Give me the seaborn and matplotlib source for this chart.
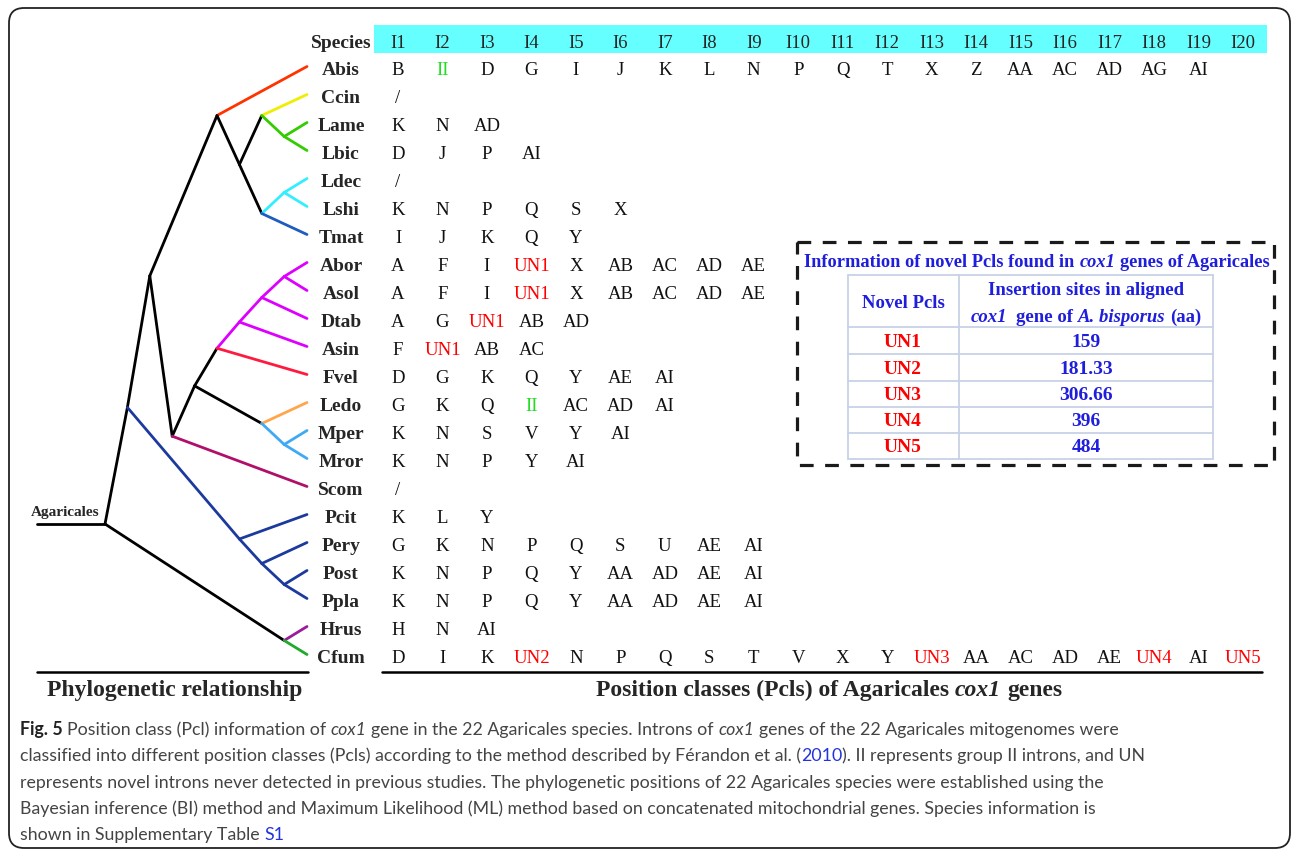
import numpy as np
import pandas as pd
import matplotlib
matplotlib.use("Agg")
import matplotlib.pyplot as plt
import seaborn as sns
from matplotlib.patches import Rectangle, FancyBboxPatch

sns.set_theme(style="white")
plt.rcParams['font.family'] = ['Liberation Serif', 'DejaVu Serif']

# -----------------------------
# data
# -----------------------------
species = ["Abis", "Ccin", "Lame", "Lbic", "Ldec", "Lshi", "Tmat", "Abor", "Asol",
           "Dtab", "Asin", "Fvel", "Ledo", "Mper", "Mror", "Scom", "Pcit", "Pery",
           "Post", "Ppla", "Hrus", "Cfum"]

pcls = {
    "Abis": ["B", "II", "D", "G", "I", "J", "K", "L", "N", "P", "Q", "T", "X", "Z", "AA", "AC", "AD", "AG", "AI"],
    "Ccin": ["/"],
    "Lame": ["K", "N", "AD"],
    "Lbic": ["D", "J", "P", "AI"],
    "Ldec": ["/"],
    "Lshi": ["K", "N", "P", "Q", "S", "X"],
    "Tmat": ["I", "J", "K", "Q", "Y"],
    "Abor": ["A", "F", "I", "UN1", "X", "AB", "AC", "AD", "AE"],
    "Asol": ["A", "F", "I", "UN1", "X", "AB", "AC", "AD", "AE"],
    "Dtab": ["A", "G", "UN1", "AB", "AD"],
    "Asin": ["F", "UN1", "AB", "AC"],
    "Fvel": ["D", "G", "K", "Q", "Y", "AE", "AI"],
    "Ledo": ["G", "K", "Q", "II", "AC", "AD", "AI"],
    "Mper": ["K", "N", "S", "V", "Y", "AI"],
    "Mror": ["K", "N", "P", "Y", "AI"],
    "Scom": ["/"],
    "Pcit": ["K", "L", "Y"],
    "Pery": ["G", "K", "N", "P", "Q", "S", "U", "AE", "AI"],
    "Post": ["K", "N", "P", "Q", "Y", "AA", "AD", "AE", "AI"],
    "Ppla": ["K", "N", "P", "Q", "Y", "AA", "AD", "AE", "AI"],
    "Hrus": ["H", "N", "AI"],
    "Cfum": ["D", "I", "K", "UN2", "N", "P", "Q", "S", "T", "V", "X", "Y", "UN3",
             "AA", "AC", "AD", "AE", "UN4", "AI", "UN5"],
}

columns = ["I%d" % i for i in range(1, 21)]

novel_pcls = ["UN1", "UN2", "UN3", "UN4", "UN5"]
insertion_sites = ["159", "181.33", "306.66", "396", "484"]

# tree topology (node -> children) and depth level of internal nodes
tree = {
    "root": ["Nh", "Nhc"],
    "Nh": ["N1", "Np1"],
    "N1": ["Ntop", "Ng"],
    "Ntop": ["Abis", "Nb"],
    "Nb": ["Nc", "Nd"],
    "Nc": ["Ccin", "Ne"],
    "Ne": ["Lame", "Lbic"],
    "Nd": ["Nf", "Tmat"],
    "Nf": ["Ldec", "Lshi"],
    "Ng": ["Ni", "Scom"],
    "Ni": ["Nj", "Nk"],
    "Nj": ["Nm1", "Fvel"],
    "Nm1": ["Nm2", "Asin"],
    "Nm2": ["Nm3", "Dtab"],
    "Nm3": ["Abor", "Asol"],
    "Nk": ["Ledo", "Nmm"],
    "Nmm": ["Mper", "Mror"],
    "Np1": ["Pcit", "Np2"],
    "Np2": ["Pery", "Np3"],
    "Np3": ["Post", "Ppla"],
    "Nhc": ["Hrus", "Cfum"],
}
depth = {"root": 0, "Nh": 1, "N1": 2, "Ng": 3, "Ni": 4, "Ntop": 5, "Nj": 5,
         "Nb": 6, "Nm1": 6, "Np1": 6, "Nc": 7, "Nd": 7, "Nm2": 7, "Nk": 7,
         "Np2": 7, "Ne": 8, "Nf": 8, "Nm3": 8, "Nmm": 8, "Np3": 8, "Nhc": 8}

# colour of the branch leading to each node
P_BLUE = "#1C3A9E"
MAG = "#DD00FF"
branch_color = {
    "Abis": "#FF3300", "Ccin": "#EEEE00", "Ne": "#33CC00", "Lame": "#33CC00",
    "Lbic": "#33CC00", "Nf": "#33EEFF", "Ldec": "#33EEFF", "Lshi": "#33EEFF",
    "Tmat": "#1F5CC0", "Nm1": MAG, "Nm2": MAG, "Nm3": MAG, "Abor": MAG,
    "Asol": MAG, "Dtab": MAG, "Asin": MAG, "Fvel": "#FF1A40", "Ledo": "#FFA64D",
    "Nmm": "#3FA9F5", "Mper": "#3FA9F5", "Mror": "#3FA9F5", "Scom": "#B0106A",
    "Np1": P_BLUE, "Np2": P_BLUE, "Np3": P_BLUE, "Pcit": P_BLUE, "Pery": P_BLUE,
    "Post": P_BLUE, "Ppla": P_BLUE, "Hrus": "#9B1B9B", "Cfum": "#1FAA2A",
}

# -----------------------------
# layout
# -----------------------------
ROW0, ROWSTEP = 68.5, 28.0
COL0, COLSTEP = 398, 44.47
TIP_X, ROOT_X, DSTEP = 307, 105, 22.4
RED = "#FF0000"
GREEN = "#22DD22"
BLUE = "#1E1EDC"

fig = plt.figure(figsize=(12.92, 8.52), dpi=100)
ax = fig.add_axes([0, 0, 1, 1])
renderer = fig.canvas.get_renderer()


def set_frame():
    ax.set_xlim(0, 1292)
    ax.set_ylim(852, 0)
    ax.axis("off")


set_frame()

# -----------------------------
# tree
# -----------------------------
xpos, ypos = {}, {}
for i, s in enumerate(species):
    xpos[s] = TIP_X
    ypos[s] = ROW0 - 2 + i * ROWSTEP


def place(n):
    if n in ypos:
        return ypos[n]
    ypos[n] = np.mean([place(c) for c in tree[n]])
    xpos[n] = ROOT_X + depth[n] * DSTEP
    return ypos[n]


place("root")

rows = [("stem", 37, ypos["root"]), ("stem", xpos["root"], ypos["root"])]
for parent, kids in tree.items():
    for c in kids:
        rows.append((c, xpos[parent], ypos[parent]))
        rows.append((c, xpos[c], ypos[c]))
edges = pd.DataFrame(rows, columns=["edge", "x", "y"])
palette = {e: branch_color.get(e, "black") for e in edges["edge"].unique()}

sns.lineplot(data=edges, x="x", y="y", hue="edge", palette=palette,
             estimator=None, sort=False, legend=False, lw=2.0, ax=ax)
set_frame()

ax.text(65, 516, "Agaricales", ha="center", va="baseline", fontsize=11,
        fontweight="bold")

# -----------------------------
# Pcl table
# -----------------------------
ax.add_patch(Rectangle((374, 25), 1267 - 374, 28, color="#66FFFF", lw=0))
ax.text(341, 47.5, "Species", ha="center", va="baseline", fontsize=14,
        fontweight="bold")
for j, c in enumerate(columns):
    ax.text(COL0 + j * COLSTEP, 47.5, c, ha="center", va="baseline", fontsize=13.5)

for i, s in enumerate(species):
    yb = ROW0 + i * ROWSTEP + 6.6
    ax.text(341, yb, s, ha="center", va="baseline", fontsize=14, fontweight="bold")
    for j, v in enumerate(pcls[s]):
        col = RED if v.startswith("UN") else (GREEN if v == "II" else "#111111")
        ax.text(COL0 + j * COLSTEP, yb, v, ha="center", va="baseline",
                fontsize=13.5, color=col)

ax.plot([37, 308], [672, 672], color="black", lw=1.8)
ax.plot([382, 1262], [672, 672], color="black", lw=1.8)


# -----------------------------
# rich text helper
# -----------------------------
def width(s, **kw):
    t1 = ax.text(0, 0, "|" + s + "|", **kw)
    t2 = ax.text(0, 0, "||", **kw)
    w = t1.get_window_extent(renderer).width - t2.get_window_extent(renderer).width
    t1.remove()
    t2.remove()
    return w


def rich(x, y, parts, ha="left", **base):
    info = []
    for s, kw in parts:
        props = {**base, **kw}
        lead = len(s) - len(s.lstrip(" "))
        core = s.strip(" ")
        info.append((core, props, width(" " * lead, **props) if lead else 0,
                     width(s, **props)))
    total = sum(i[3] for i in info)
    if ha == "center":
        x -= total / 2
    for core, props, off, w in info:
        if core:
            ax.text(x + off, y, core, ha="left", va="baseline", **props)
        x += w


ax.text(175, 696, "Phylogenetic relationship", ha="center", va="baseline",
        fontsize=17, fontweight="bold")
rich(829, 696, [("Position classes (Pcls) of Agaricales ", {}),
                ("cox1", {"fontstyle": "italic"}),
                (" genes", {})],
     ha="center", fontsize=17, fontweight="bold")

# -----------------------------
# novel Pcl inset
# -----------------------------
ax.add_patch(Rectangle((797, 242), 1274 - 797, 465 - 242, fill=False,
                       ec="#1a1a1a", lw=2.3, ls=(0, (4.3, 3.6))))
rich(1037, 267, [("Information of novel Pcls found in ", {}),
                 ("cox1", {"fontstyle": "italic"}),
                 (" genes of Agaricales", {})],
     ha="center", fontsize=13.2, fontweight="bold", color=BLUE)

hl = [275, 327, 354, 381, 407, 433, 459]
for yy in hl:
    ax.plot([848, 1213], [yy, yy], color="#C8D2E6", lw=1.3)
for xx in [848, 959, 1213]:
    ax.plot([xx, xx], [275, 459], color="#C8D2E6", lw=1.3)

ax.text(903, 308, "Novel Pcls", ha="center", va="baseline", fontsize=13.5,
        fontweight="bold", color=BLUE)
ax.text(1086, 295, "Insertion sites in aligned", ha="center", va="baseline",
        fontsize=13.5, fontweight="bold", color=BLUE)
rich(1086, 322, [("cox1", {"fontstyle": "italic"}), ("  gene of ", {}),
                 ("A. bisporus", {"fontstyle": "italic"}), (" (aa)", {})],
     ha="center", fontsize=13.5, fontweight="bold", color=BLUE)
for k, (u, v) in enumerate(zip(novel_pcls, insertion_sites)):
    yb = (hl[k + 1] + hl[k + 2]) / 2 + 6.5
    ax.text(903, yb, u, ha="center", va="baseline", fontsize=14,
            fontweight="bold", color=RED)
    ax.text(1086, yb, v, ha="center", va="baseline", fontsize=14,
            fontweight="bold", color=BLUE)

# -----------------------------
# caption
# -----------------------------
cap_font = ['Lato', 'DejaVu Sans']
GRAY = "#444444"
LINK = "#2233DD"
it = {"fontstyle": "italic"}
caption = [
    [("Fig. 5", {"fontweight": "bold", "color": "#222222"}),
     (" Position class (Pcl) information of ", {}), ("cox1", it),
     (" gene in the 22 Agaricales species. Introns of ", {}), ("cox1", it),
     (" genes of the 22 Agaricales mitogenomes were", {})],
    [("classified into different position classes (Pcls) according to the method "
      "described by Férandon et al. (", {}), ("2010", {"color": LINK}),
     ("). II represents group II introns, and UN", {})],
    [("represents novel introns never detected in previous studies. The phylogenetic "
      "positions of 22 Agaricales species were established using the", {})],
    [("Bayesian inference (BI) method and Maximum Likelihood (ML) method based on "
      "concatenated mitochondrial genes. Species information is", {})],
    [("shown in Supplementary Table ", {}), ("S1", {"color": LINK})],
]
# fit the caption size so the third line spans its width in the reference
w10 = width(caption[2][0][0], family=cap_font, fontsize=10)
cap_size = 10 * 1085 / w10
for k, line in enumerate(caption):
    rich(20, 735 + k * 26.3, line, family=cap_font, fontsize=cap_size, color=GRAY)

# frame around the figure
ax.add_patch(FancyBboxPatch((9, 8), 1281, 840, boxstyle="round,pad=0,rounding_size=15",
                            fill=False, ec="#222222", lw=1.3))

fig.savefig("out.png", dpi=100)
